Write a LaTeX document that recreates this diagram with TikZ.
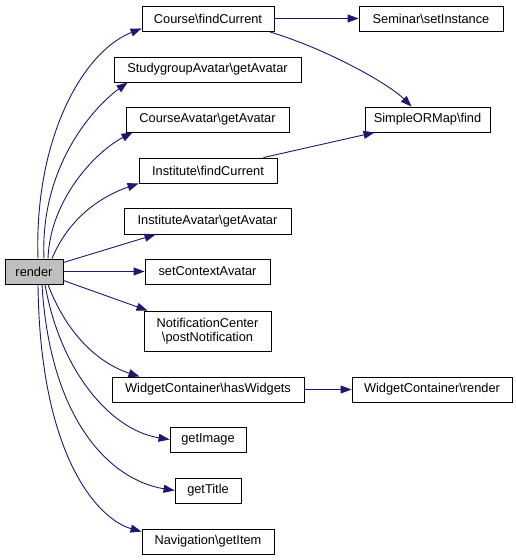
\documentclass[tikz,border=0pt]{standalone}
\usepackage{fontspec}
\setmainfont{Liberation Sans}
\usetikzlibrary{arrows.meta}
\definecolor{edgeblue}{HTML}{191970}
\definecolor{rendergray}{HTML}{BFBFBF}
\tikzset{
  box/.style={draw=black, line width=0.9pt, inner sep=0pt, fill=white,
    font=\fontsize{12.8}{13.6}\selectfont, align=center},
  conn/.style={draw=edgeblue, line width=0.9pt,
    -{Triangle[length=11pt,width=8pt]}, fill=none},
}
\begin{document}
\begin{tikzpicture}[x=1pt,y=-1pt]
\useasboundingbox (0,0) rectangle (516,560);
% nodes
\node[box, fill=rendergray, minimum width=58pt, minimum height=25pt] (render) at (34,271.5) {render};
\node[box, minimum width=132pt, minimum height=25pt] (cf) at (208,18.5) {Course\textbackslash findCurrent};
\node[box, minimum width=187pt, minimum height=25pt] (sg) at (207.5,69.5) {StudygroupAvatar\textbackslash getAvatar};
\node[box, minimum width=163pt, minimum height=25pt] (ca) at (207.5,119.5) {CourseAvatar\textbackslash getAvatar};
\node[box, minimum width=138pt, minimum height=25pt] (ic) at (208,170.5) {Institute\textbackslash findCurrent};
\node[box, minimum width=167pt, minimum height=26pt] (ia) at (207.5,221) {InstituteAvatar\textbackslash getAvatar};
\node[box, minimum width=125pt, minimum height=25pt] (sc) at (207.5,271.5) {setContextAvatar};
\node[box, minimum width=127pt, minimum height=40pt] (nc) at (207.5,331) {NotificationCenter\\\textbackslash postNotification};
\node[box, minimum width=192pt, minimum height=25pt] (hw) at (208,389.5) {WidgetContainer\textbackslash hasWidgets};
\node[box, minimum width=76pt, minimum height=25pt] (gi) at (208,439.5) {getImage};
\node[box, minimum width=66pt, minimum height=25pt] (gt) at (208,490.5) {getTitle};
\node[box, minimum width=132pt, minimum height=25pt] (ng) at (208,541.5) {Navigation\textbackslash getItem};
\node[box, minimum width=144pt, minimum height=25pt] (si) at (431,18.5) {Seminar\textbackslash setInstance};
\node[box, minimum width=125pt, minimum height=25pt] (sm) at (427.5,119.5) {SimpleORMap\textbackslash find};
\node[box, minimum width=160pt, minimum height=25pt] (wr) at (432,389.5) {WidgetContainer\textbackslash render};
% connectors from render
\draw[conn] ([xshift=4pt]render.north) .. controls (34,140) and (82,52) .. ([yshift=3pt]cf.south west);
\draw[conn] ([xshift=10pt]render.north) .. controls (40,170) and (90,110) .. ([xshift=14pt]sg.south west);
\draw[conn] ([xshift=14pt]render.north) .. controls (50,200) and (95,152) .. ([xshift=7pt]ca.south west);
\draw[conn] ([xshift=18pt]render.north) .. controls (70,215) and (105,195) .. (ic.south west);
\draw[conn] ([yshift=9pt]render.east) -- ([xshift=32pt]ia.south west);
\draw[conn] (render.east) -- (sc.west);
\draw[conn] ([yshift=-9pt]render.east) -- ([xshift=4pt]nc.north west);
\draw[conn] ([xshift=14pt]render.south) .. controls (65,330) and (95,362) .. ([xshift=28pt]hw.north west);
\draw[conn] ([xshift=11pt]render.south) .. controls (60,370) and (110,430) .. (gi.west);
\draw[conn] ([xshift=8pt]render.south) .. controls (50,420) and (110,480) .. (gt.west);
\draw[conn] ([xshift=4pt]render.south) .. controls (40,460) and (100,520) .. ([yshift=-3pt]ng.north west);
% other connectors
\draw[conn] (cf.east) -- (si.west);
\draw[conn] ([xshift=-6pt]cf.south east) .. controls (330,50) and (390,85) .. ([xshift=47pt]sm.north west);
\draw[conn] ([xshift=-14pt]ic.north east) -- ([xshift=10pt]sm.south west);
\draw[conn] (hw.east) -- (wr.west);
\end{tikzpicture}
\end{document}
